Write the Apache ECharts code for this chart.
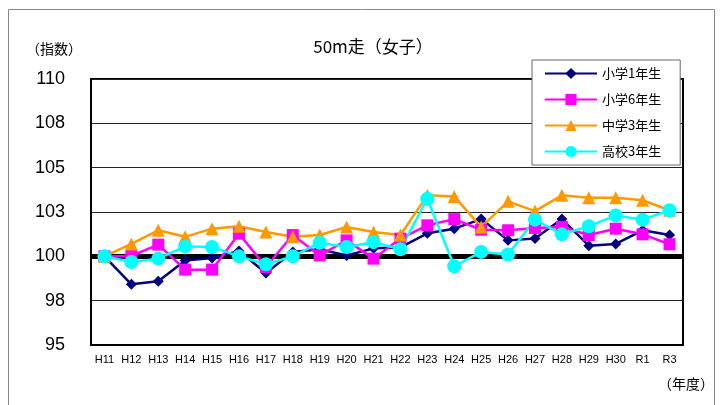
<!DOCTYPE html>
<html>
<head>
<meta charset="utf-8">
<script src="https://cdn.jsdelivr.net/npm/echarts@6/dist/echarts.min.js"></script>
<style>html,body{margin:0;padding:0;background:#fff}#c{width:725px;height:405px}</style>
</head>
<body>
<div id="c"></div>
<script>
const categories = ['H11','H12','H13','H14','H15','H16','H17','H18','H19','H20','H21','H22','H23','H24','H25','H26','H27','H28','H29','H30','R1','R3'];
const yTickLabels = ['95','98','100','103','105','108','110'];
const seriesNames = ['小学1年生','小学6年生','中学3年生','高校3年生'];
const elem1 = [100, 98.42, 98.6, 99.77, 99.9, 100.3, 99.06, 100.25, 100.4, 100.05, 100.45, 100.5, 101.3, 101.56, 102.1, 100.9, 101.0, 102.1, 100.6, 100.7, 101.47, 101.2];
const elem6 = [100, 100.02, 100.66, 99.25, 99.25, 101.28, 99.4, 101.2, 100.05, 100.9, 99.87, 101.0, 101.75, 102.1, 101.5, 101.47, 101.6, 101.65, 101.2, 101.56, 101.24, 100.68];
const junior3 = [100, 100.7, 101.47, 101.1, 101.56, 101.7, 101.37, 101.1, 101.2, 101.65, 101.37, 101.2, 103.44, 103.38, 101.65, 103.1, 102.55, 103.44, 103.3, 103.3, 103.16, 102.6];
const high3 = [100, 99.68, 99.87, 100.56, 100.53, 100.0, 99.55, 100.0, 100.77, 100.53, 100.8, 100.4, 103.25, 99.44, 100.25, 100.1, 102.07, 101.24, 101.7, 102.3, 102.07, 102.6];
const baseLine = 100;
</script>
<script>
const font = '"Noto Sans CJK JP", "Liberation Sans", sans-serif';
const chart = echarts.init(document.getElementById('c'), null, {renderer: 'canvas'});
function mk(name, data, color, symbol, size) {
  return {
    name, type: 'line', data, symbol, symbolSize: size,
    itemStyle: {color}, lineStyle: {color, width: 2.5},
    emphasis: {disabled: true}, animation: false, z: 3
  };
}
const s = [
  mk(seriesNames[0], elem1, '#000080', 'diamond', 11),
  mk(seriesNames[1], elem6, '#ff00ff', 'rect', 12),
  mk(seriesNames[2], junior3, '#ff9900', 'triangle', 13),
  mk(seriesNames[3], high3, '#00ffff', 'circle', 14)
];
s[0].markLine = {silent: true, symbol: 'none', label: {show: false},
  lineStyle: {color: '#000', width: 5, type: 'solid'}, data: [{yAxis: baseLine}], z: 1};
chart.setOption({
  animation: false,
  backgroundColor: '#fff',
  title: {text: '50m走（女子）', left: 368, top: 33, textAlign: 'center',
    textStyle: {fontFamily: font, fontSize: 17, fontWeight: 'normal', color: '#000'}},
  grid: {left: 91, top: 79, right: 42, bottom: 60, show: true, borderColor: '#000', borderWidth: 2, backgroundColor: 'transparent'},
  legend: {
    orient: 'vertical', left: 532, top: 60,
    padding: [7, 19, 7, 12], itemGap: 13, itemWidth: 52, itemHeight: 14,
    backgroundColor: '#fff', borderColor: '#666', borderWidth: 1,
    textStyle: {fontFamily: font, fontSize: 13, color: '#000'},
    data: seriesNames
  },
  xAxis: {
    type: 'category', data: categories, boundaryGap: true,
    axisLine: {show: true, lineStyle: {color: '#000', width: 2}},
    axisTick: {show: false},
    axisLabel: {fontFamily: '"Liberation Sans", sans-serif', fontSize: 11, color: '#000', margin: 9, interval: 0}
  },
  yAxis: {
    type: 'value', min: 95, max: 110, interval: 2.5,
    axisLine: {show: true, lineStyle: {color: '#000', width: 2}},
    axisTick: {show: false},
    splitLine: {show: true, lineStyle: {color: '#222', width: 1}},
    axisLabel: {fontFamily: '"Liberation Sans", sans-serif', fontSize: 18, color: '#000', margin: 26,
      formatter: (v) => yTickLabels[Math.round((v - 95) / 2.5)]}
  },
  graphic: [
    {type: 'rect', shape: {x: 8.5, y: 9.5, width: 706, height: 420}, style: {fill: 'none', stroke: '#888', lineWidth: 1}, silent: true},
    {type: 'text', left: 26, top: 42, style: {text: '（指数）', font: '14px "Noto Sans CJK JP"', fill: '#000'}, silent: true},
    {type: 'text', left: 658, top: 377, style: {text: '（年度）', font: '14px "Noto Sans CJK JP"', fill: '#000'}, silent: true}
  ],
  series: s
});
</script>
</body>
</html>
